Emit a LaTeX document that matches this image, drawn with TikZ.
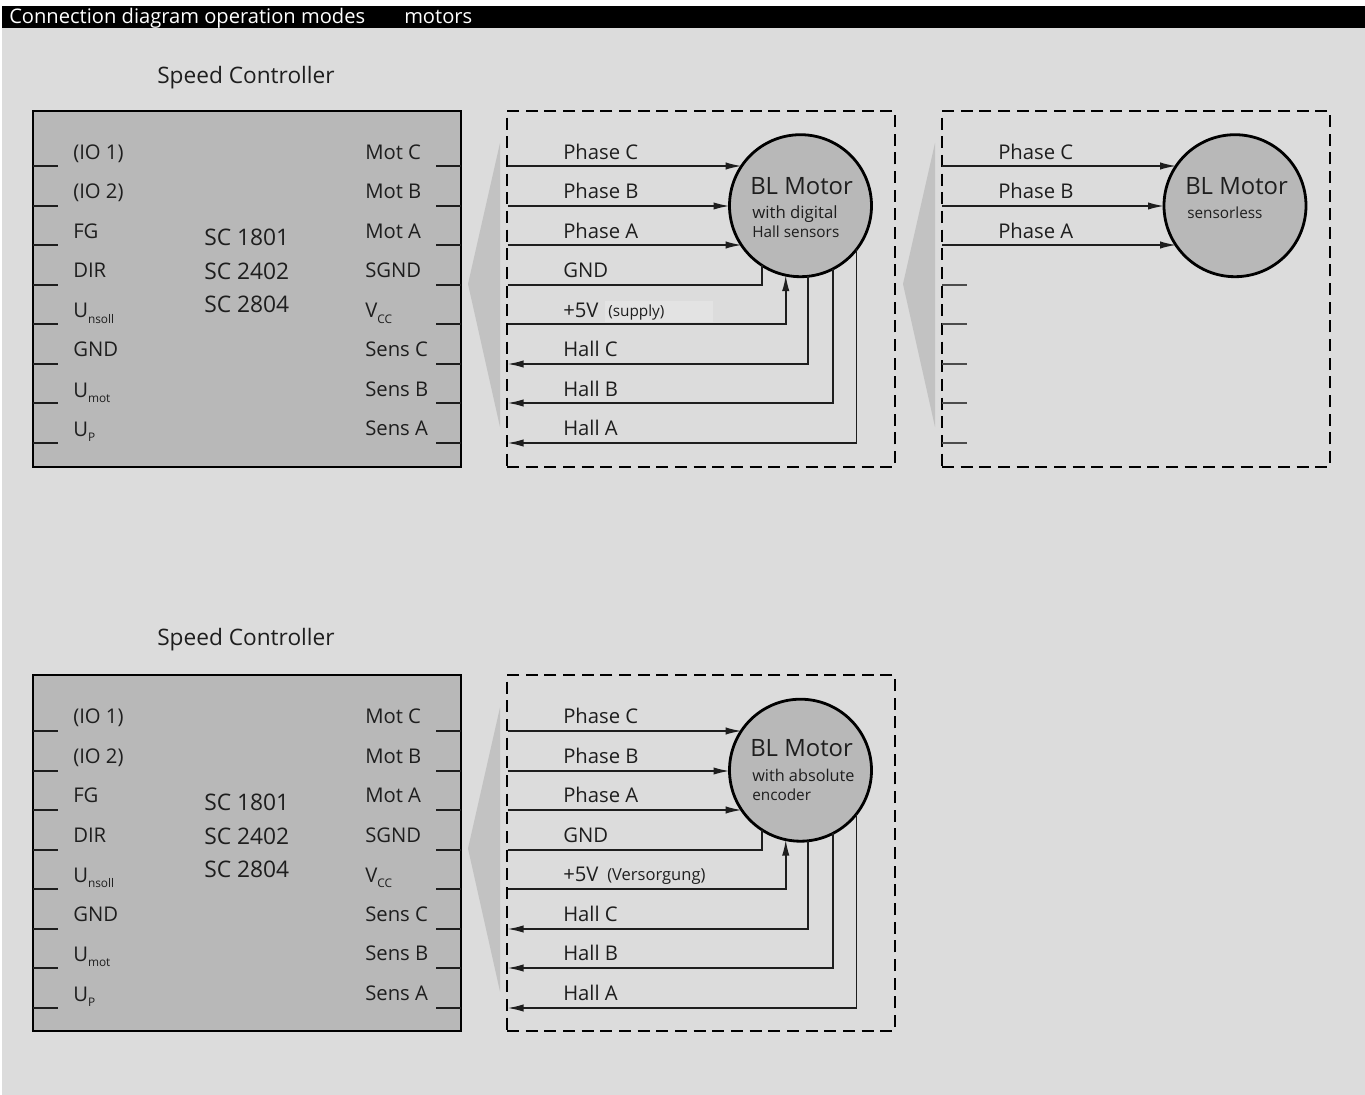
\documentclass[tikz,border=0pt]{standalone}
\usepackage{fontspec}
\setmainfont{Open Sans}
\usetikzlibrary{arrows.meta}
\definecolor{bgc}{HTML}{DCDCDC}
\definecolor{boxc}{HTML}{B8B8B8}
\definecolor{wedgec}{HTML}{C2C2C2}
\definecolor{inkc}{HTML}{1E1E1E}
\definecolor{patchc}{HTML}{E3E3E3}
\newcommand{\subt}[1]{\raisebox{-4pt}{\fontsize{8.9}{10}\selectfont #1}}
\tikzset{
  x=0.75pt,y=-0.75pt,
  lab/.style={anchor=base west,inner sep=0pt,text=inkc,font=\fontsize{15.2}{18}\selectfont},
  biglab/.style={lab,font=\fontsize{17}{20}\selectfont},
  sclab/.style={lab,font=\fontsize{17.1}{20}\selectfont},
  motlab/.style={lab,font=\fontsize{17.9}{20}\selectfont},
  smalllab/.style={lab,font=\fontsize{11.5}{14}\selectfont},
  ctrlbox/.style={draw=black,fill=boxc,line width=1.9pt,minimum width=321pt,minimum height=267pt,inner sep=0pt,outer sep=0pt},
  framebox/.style={draw=black,line width=1.5pt,dash pattern=on 9pt off 5pt,minimum width=291pt,minimum height=267pt,inner sep=0pt,outer sep=0pt},
  motorc/.style={circle,draw=black,fill=boxc,line width=2.1pt,minimum size=106.5pt,inner sep=0pt,outer sep=0pt},
  pinline/.style={draw=inkc,line width=1.15pt},
  wire/.style={draw=inkc,line width=1.15pt},
  inwire/.style={wire,-{Latex[length=12pt,width=5.5pt]}},
  wedgef/.style={fill=wedgec,draw=none},
  stubline/.style={draw=black!70,line width=1.15pt}
}
% #1 name suffix, #2 title baseline, #3 motor title baseline, #4 row offset, #5 box offset, #6 text fix for rows 1 and 3
\newcommand{\ctrlblock}[6]{%
  \node[biglab] (title#1) at (157,#2) {Speed Controller};
  \node[ctrlbox] (ctrl#1) at (247,289+#5) {};
  \foreach \yy/\nn in {166/a,206/b,245/c,285/d,324/e,364/f,403/g,443/h}{
    \coordinate (pl\nn#1) at (33,\yy+#4);
    \coordinate (pli\nn#1) at (58,\yy+#4);
    \coordinate (pr\nn#1) at (461,\yy+#4);
    \coordinate (pri\nn#1) at (436,\yy+#4);
    \draw[pinline] (pl\nn#1) -- (pli\nn#1);
    \draw[pinline] (pr\nn#1) -- (pri\nn#1);
  }
  \node[lab] (la#1) at (73,159+#6) {(IO 1)};
  \node[lab] (lb#1) at (73,198.5) {(IO 2)};
  \node[lab] (lc#1) at (73,238+#6) {FG};
  \node[lab] (ld#1) at (73,277.5) {DIR};
  \node[lab] (le#1) at (73,318) {U\subt{nsoll}};
  \node[lab] (lf#1) at (73,356.5) {GND};
  \node[lab] (lg#1) at (73,397) {U\subt{mot}};
  \node[lab] (lh#1) at (73,436.5) {U\subt{P}};
  \node[lab] (ra#1) at (365,159+#6) {Mot C};
  \node[lab] (rb#1) at (365,198.5) {Mot B};
  \node[lab] (rc#1) at (365,238+#6) {Mot A};
  \node[lab] (rd#1) at (365,277.5) {SGND};
  \node[lab] (re#1) at (365,318) {V\subt{CC}};
  \node[lab] (rf#1) at (365,356.5) {Sens C};
  \node[lab] (rg#1) at (365,396) {Sens B};
  \node[lab] (rh#1) at (365,435.5) {Sens A};
  \node[sclab] (sa#1) at (204,245.5) {SC 1801};
  \node[sclab] (sb#1) at (204,279.5) {SC 2402};
  \node[sclab] (sc#1) at (204,312.5) {SC 2804};
  \fill[wedgef] (468,284) -- (500,143) -- (500,427) -- cycle;
  \node[framebox] (fr#1) at (701,289+#5) {};
  \node[motorc] (m#1) at (800.5,205.7) {};
  \foreach \yy/\nn in {166/a,206/b,245/c,285/d,324/e,364/f,403/g,443/h}{
    \coordinate (w\nn#1) at (507.5,\yy+#4);
  }
  \draw[inwire] (wa#1) -- (wa#1 -| m#1.146);
  \draw[inwire] (wb#1) -- (wb#1 -| m#1.180);
  \draw[inwire] (wc#1) -- (wc#1 -| m#1.214);
  \draw[wire] (wd#1) -| (m#1.237);
  \draw[inwire] (we#1) -| (m#1.258);
  \draw[inwire] (m#1.276) |- (wf#1);
  \draw[inwire] (m#1.297) |- (wg#1);
  \draw[inwire] (m#1.322) |- (wh#1);
  \node[lab] (pc#1) at (563,159+#6) {Phase C};
  \node[lab] (pb#1) at (563,198.5) {Phase B};
  \node[lab] (pa#1) at (563,238+#6) {Phase A};
  \node[lab] (gn#1) at (563,277.5) {GND};
  \node[lab] (fv#1) at (563,317) {+5V};
  \node[lab] (hc#1) at (563,356.5) {Hall C};
  \node[lab] (hb#1) at (563,396) {Hall B};
  \node[lab] (ha#1) at (563,435.5) {Hall A};
  \node[motlab] (bl#1) at (750,#3) {BL Motor};
}
\begin{document}
\begin{tikzpicture}
\useasboundingbox (0,0) rectangle (1365,1095);
\fill[white] (0,0) rectangle (1365,1095);
\fill[bgc] (2,6) rectangle (1365,1095);
\fill[black] (2,6) rectangle (1365,28);
\node[lab,text=white,font=\fontsize{15.1}{18}\selectfont] (head) at (9,23.7) {Connection diagram operation modes};
\node[lab,text=white,font=\fontsize{15.1}{18}\selectfont] (headb) at (404,23.7) {motors};
% first block
\fill[patchc] (605,301) rectangle (713,322);
\ctrlblock{T}{84}{195}{0}{0}{0.7}
\node[smalllab] (supply) at (608,316) {(supply)};
\node[smalllab,font=\fontsize{12.6}{14}\selectfont] (subT) at (752,219) {with digital};
\node[smalllab] (subTb) at (752,238) {Hall sensors};
% sensorless block
\fill[wedgef] (903,284) -- (935,143) -- (935,427) -- cycle;
\node[framebox] (frS) at (1136,289) {};
\node[motorc] (mS) at (1235,205.7) {};
\foreach \yy/\nn in {166/a,206/b,245/c,285/d,324/e,364/f,403/g,443/h}{
  \coordinate (w\nn S) at (942,\yy);
}
\foreach \yy/\nn in {285/d,324/e,364/f,403/g,443/h}{
  \coordinate (t\nn S) at (967,\yy);
  \draw[stubline] (w\nn S) -- (t\nn S);
}
\draw[inwire] (waS) -- (waS -| mS.146);
\draw[inwire] (wbS) -- (wbS -| mS.180);
\draw[inwire] (wcS) -- (wcS -| mS.214);
\node[lab] (pcS) at (998,159.7) {Phase C};
\node[lab] (pbS) at (998,198.5) {Phase B};
\node[lab] (paS) at (998,238.7) {Phase A};
\node[motlab] (blS) at (1185,195) {BL Motor};
\node[smalllab] (subS) at (1187,219) {sensorless};
% lower block
\begin{scope}[shift={(0,564.5)}]
\ctrlblock{B}{80.5}{191.5}{0.5}{-0.5}{0}
\node[smalllab,font=\fontsize{12.4}{14}\selectfont] (vers) at (607,316) {(Versorgung)};
\node[smalllab,font=\fontsize{12.2}{14}\selectfont] (subB) at (752,216.5) {with absolute};
\node[smalllab] (subBb) at (752,235.5) {encoder};
\end{scope}
\end{tikzpicture}
\end{document}
